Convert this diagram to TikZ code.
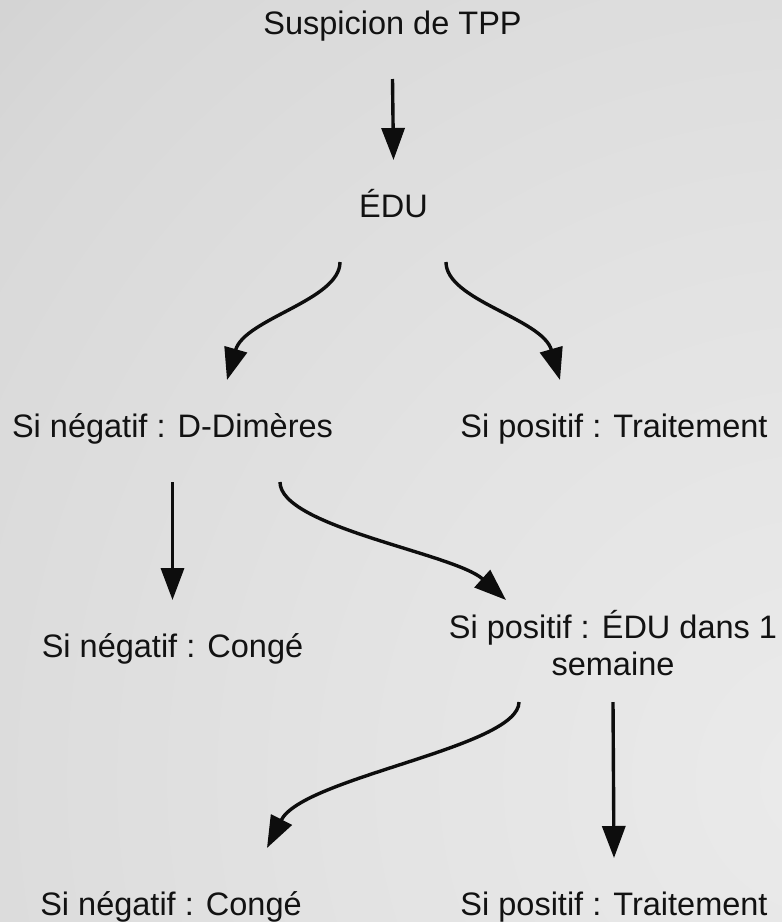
\documentclass[tikz,border=0pt]{standalone}
\usepackage{fontspec}
\setmainfont{Liberation Sans}
\usepackage{tikz}
\usetikzlibrary{arrows.meta}

\definecolor{bga}{gray}{0.92}
\definecolor{bgb}{gray}{0.89}
\definecolor{bgc}{gray}{0.85}
\definecolor{bgd}{gray}{0.77}
\definecolor{bge}{gray}{0.755}
\definecolor{bgf}{gray}{0.66}
\pgfdeclareradialshading{bgglow}{\pgfpointorigin}{color(0bp)=(bga); color(10.4bp)=(bgb);
  color(21.2bp)=(bgc); color(33bp)=(bgd); color(36bp)=(bge); color(48.3bp)=(bgf); color(50bp)=(bgf)}

\begin{document}
\begin{tikzpicture}[x=1pt,y=-1pt,
    lbl/.style={anchor=base, inner sep=0pt, outer ysep=40pt, text height=17pt, text depth=5pt,
      font=\fontsize{32.5}{37}\selectfont, text=black!93},
    flow/.style={-{Triangle[length=32pt,width=23pt]}, line width=3.4pt, black!95}]
  \begin{scope}
    \clip (0,0) rectangle (782,922);
    \shade[shading=bgglow] (830,780) circle (1180);
  \end{scope}
  \useasboundingbox (0,0) rectangle (782,922);
  \node[lbl] (tpp) at (392.5,34)  {Suspicion de TPP};
  \node[lbl] (edu) at (393.5,217) {ÉDU};
  \node[lbl] (dd)  at (172.5,437) {Si négatif : D-Dimères};
  \node[lbl] (tr1) at (614,437)   {Si positif : Traitement};
  \node[lbl] (cg1) at (172.5,657) {Si négatif : Congé};
  \node[lbl, align=center, text height=54pt] (ed) at (613,675) {Si positif : ÉDU dans 1\\semaine};
  \node[lbl] (cg2) at (171,915)   {Si négatif : Congé};
  \node[lbl] (tr2) at (614,915)   {Si positif : Traitement};
  \path[flow]
    (tpp.south) edge (edu.north)
    ([xshift=-53.5pt]edu.south) edge[out=-90, in=74, out looseness=0.6, in looseness=1.0] ([xshift=54.5pt]dd.north)
    ([xshift=52.5pt]edu.south) edge[out=-90, in=106, out looseness=0.6, in looseness=1.0] ([xshift=-54pt]tr1.north)
    (dd.south) edge (cg1.north)
    ([xshift=107.5pt]dd.south) edge[out=-90, in=138, out looseness=0.45, in looseness=0.7] ([xshift=-107pt,yshift=-19pt]ed.north)
    ([xshift=-94pt,yshift=18pt]ed.south) edge[out=-90, in=63, out looseness=0.4, in looseness=0.7] ([xshift=96pt,yshift=10pt]cg2.north)
    ([yshift=18pt]ed.south) edge (tr2.north);
\end{tikzpicture}
\end{document}
